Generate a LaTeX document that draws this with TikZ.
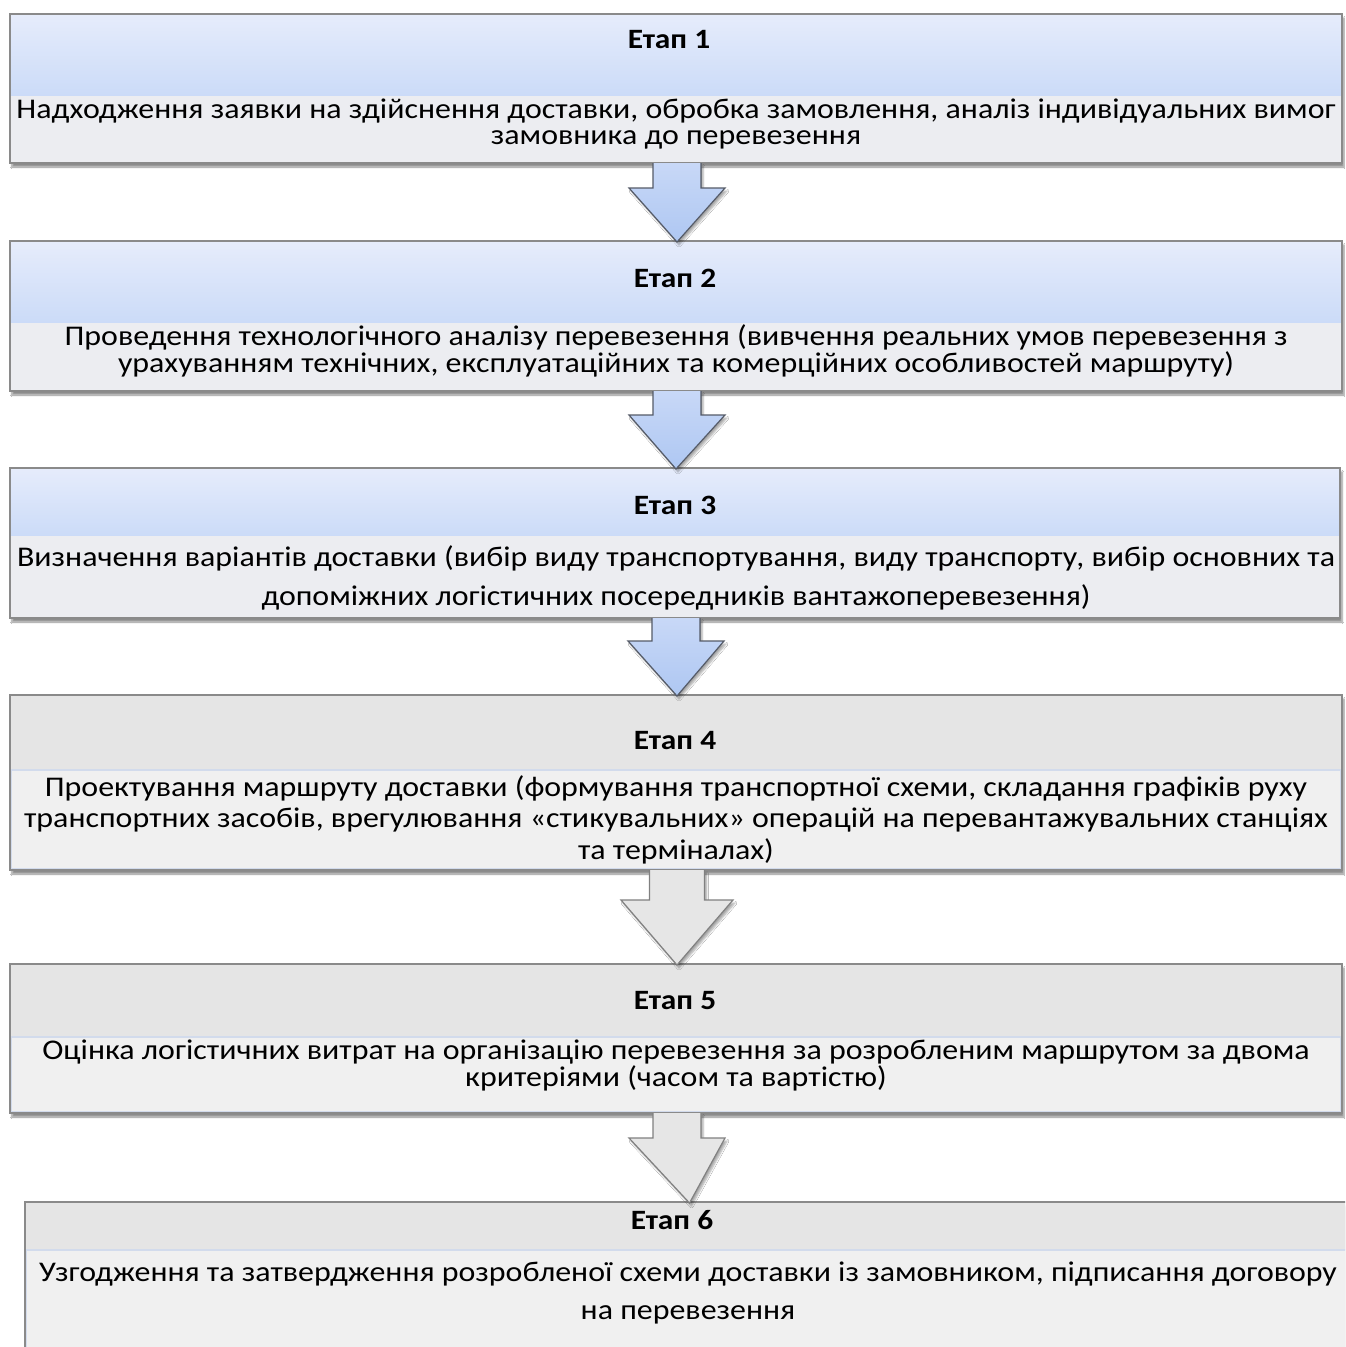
\documentclass[tikz,border=0pt]{standalone}
\usepackage{fontspec}
\setmainfont{Carlito}[FakeStretch=1.12]
\usetikzlibrary{calc,fit,shadows.blur}

\definecolor{hdrtop}{HTML}{E6ECFB}
\definecolor{hdrbot}{HTML}{CBDBF8}
\definecolor{bodyblue}{HTML}{ECEDF1}
\definecolor{hdrgray}{HTML}{E5E5E5}
\definecolor{bodygray}{HTML}{F0F0F0}
\definecolor{innerline}{HTML}{D2DBEC}
\definecolor{framegray}{HTML}{8A8A8A}
\definecolor{arrowtop}{HTML}{C8D8F7}
\definecolor{arrowbot}{HTML}{AEC7F2}
\definecolor{arrowline}{HTML}{555B68}
\definecolor{arrowgray}{HTML}{E6E6E6}
\definecolor{arrowgrayline}{HTML}{808080}

\tikzset{
  x=1pt, y=1pt,
  stageframe/.style={inner sep=0pt, outer sep=0pt, fill=white,
    blur shadow={shadow xshift=2pt, shadow yshift=-4pt, shadow blur steps=6,
                 shadow blur extra rounding=0pt, shadow opacity=45}},
  stageborder/.style={draw=framegray, line width=1.3pt},
  bluehead/.style={inner sep=0pt, outer sep=0pt, top color=hdrtop, bottom color=hdrbot, draw=none},
  bluebody/.style={inner sep=0pt, outer sep=0pt, fill=bodyblue, draw=none},
  grayhead/.style={inner sep=0pt, outer sep=0pt, fill=hdrgray, draw=none},
  graybody/.style={inner sep=0pt, outer sep=0pt, fill=bodygray, draw=innerline, line width=1.4pt},
  stagelabel/.style={inner sep=0pt, font=\fontsize{28}{32}\bfseries\selectfont},
  stagetext/.style={inner sep=0pt, align=center, font=\fontsize{28.5}{#1}\selectfont},
  bluearrowfill/.style={top color=arrowtop, bottom color=arrowbot,
    blur shadow={shadow xshift=2pt, shadow yshift=-3pt, shadow blur steps=5, shadow opacity=35}},
  bluearrowline/.style={draw=arrowline, line width=1.2pt, line join=miter},
  grayarrowfill/.style={fill=arrowgray,
    blur shadow={shadow xshift=2pt, shadow yshift=-3pt, shadow blur steps=5, shadow opacity=35}},
  grayarrowline/.style={draw=arrowgrayline, line width=1.2pt, line join=miter},
}

% block arrow from the bottom of one stage to the top of the next
% #1 colour family, #2 upper frame, #3 lower frame, #4 shaft length,
% #5 shaft half width, #6 head half width
\newcommand\stagearrow[6]{%
  \coordinate (arrtop) at ($(#2.south)+(1,0)$);
  \coordinate (arrtip) at ($(#3.north)+(1,-1)$);
  \fill[#1arrowfill] ($(arrtop)+(-#5,0)$) -- ($(arrtop)+(-#5,-#4)$) -- ($(arrtop)+(-#6,-#4)$)
     -- (arrtip) -- ($(arrtop)+(#6,-#4)$) -- ($(arrtop)+(#5,-#4)$) -- ($(arrtop)+(#5,0)$) -- cycle;
  \draw[#1arrowline] ($(arrtop)+(-#5,0)$) -- ($(arrtop)+(-#5,-#4)$) -- ($(arrtop)+(-#6,-#4)$)
     -- (arrtip) -- ($(arrtop)+(#6,-#4)$) -- ($(arrtop)+(#5,-#4)$) -- ($(arrtop)+(#5,0)$);
}

\begin{document}
\begin{tikzpicture}
\useasboundingbox (0,0) rectangle (1345,-1347);
\clip (0,0) rectangle (1345,-1347);
\fill[white] (0,0) rectangle (1345,-1347);

% ---- Stage 1 ----
\node[stageframe, fit={(10,-14) (1342,-163)}] (f1) {};
\node[bluehead, fit={(10,-14) (1342,-96)}] (h1) {};
\node[bluebody, fit={(10,-96) (1342,-163)}] (b1) {};
\draw[stageborder] (f1.south west) rectangle (f1.north east);
\node[stagelabel] (e1) at (669,-40) {Етап 1};
\node[stagetext=26.5] (d1) at (676,-124) {Надходження заявки на здійснення доставки, обробка замовлення, аналіз індивідуальних вимог\\замовника до перевезення};

% ---- Stage 2 ----
\node[stageframe, fit={(10,-241) (1342,-391)}] (f2) {};
\node[bluehead, fit={(10,-241) (1342,-323)}] (h2) {};
\node[bluebody, fit={(10,-323) (1342,-391)}] (b2) {};
\draw[stageborder] (f2.south west) rectangle (f2.north east);
\node[stagelabel] (e2) at (675,-278) {Етап 2};
\node[stagetext=26.5] (d2) at (676,-351) {Проведення технологічного аналізу перевезення (вивчення реальних умов перевезення з\\урахуванням технічних, експлуатаційних та комерційних особливостей маршруту)};

% ---- Stage 3 ----
\node[stageframe, fit={(10,-468) (1340,-618)}] (f3) {};
\node[bluehead, fit={(10,-468) (1340,-536)}] (h3) {};
\node[bluebody, fit={(10,-536) (1340,-618)}] (b3) {};
\draw[stageborder] (f3.south west) rectangle (f3.north east);
\node[stagelabel] (e3) at (675,-505) {Етап 3};
\node[stagetext=39] (d3) at (676,-578) {Визначення варіантів доставки (вибір виду транспортування, виду транспорту, вибір основних та\\допоміжних логістичних посередників вантажоперевезення)};

% ---- Stage 4 ----
\node[stageframe, fit={(10,-695) (1342,-870)}] (f4) {};
\node[grayhead, fit={(10,-695) (1342,-770)}] (h4) {};
\node[graybody, fit={(11,-770) (1341,-869)}] (b4) {};
\draw[stageborder] (f4.south west) rectangle (f4.north east);
\node[stagelabel] (e4) at (675,-741) {Етап 4};
\node[stagetext=31.5] (d4) at (676,-819.5) {Проектування маршруту доставки (формування транспортної схеми, складання графіків руху\\транспортних засобів, врегулювання «стикувальних» операцій на перевантажувальних станціях\\та терміналах)};

% ---- Stage 5 ----
\node[stageframe, fit={(10,-964) (1342,-1113)}] (f5) {};
\node[grayhead, fit={(10,-964) (1342,-1037)}] (h5) {};
\node[graybody, fit={(11,-1037) (1341,-1112)}] (b5) {};
\draw[stageborder] (f5.south west) rectangle (f5.north east);
\node[stagelabel] (e5) at (675,-1001) {Етап 5};
\node[stagetext=27] (d5) at (676,-1065.5) {Оцінка логістичних витрат на організацію перевезення за розробленим маршрутом за двома\\критеріями (часом та вартістю)};

% ---- Stage 6 (runs past the lower edge) ----
\node[stageframe, fit={(25,-1202) (1352,-1365)}] (f6) {};
\node[grayhead, fit={(25,-1202) (1352,-1250)}] (h6) {};
\node[graybody, fit={(26,-1250) (1351,-1364)}] (b6) {};
\draw[stageborder] (f6.south west) rectangle (f6.north east);
\node[stagelabel] (e6) at (672,-1220) {Етап 6};
\node[stagetext=38] (d6) at (688,-1293) {Узгодження та затвердження розробленої схеми доставки із замовником, підписання договору\\на перевезення};

% ---- connectors ----
\stagearrow{blue}{f1}{f2}{25}{24}{48}
\stagearrow{blue}{f2}{f3}{24}{24}{48}
\stagearrow{blue}{f3}{f4}{23}{24}{48}
\stagearrow{gray}{f4}{f5}{30}{27.5}{56}
\stagearrow{gray}{f5}{f6}{25}{24}{48}
\end{tikzpicture}
\end{document}
